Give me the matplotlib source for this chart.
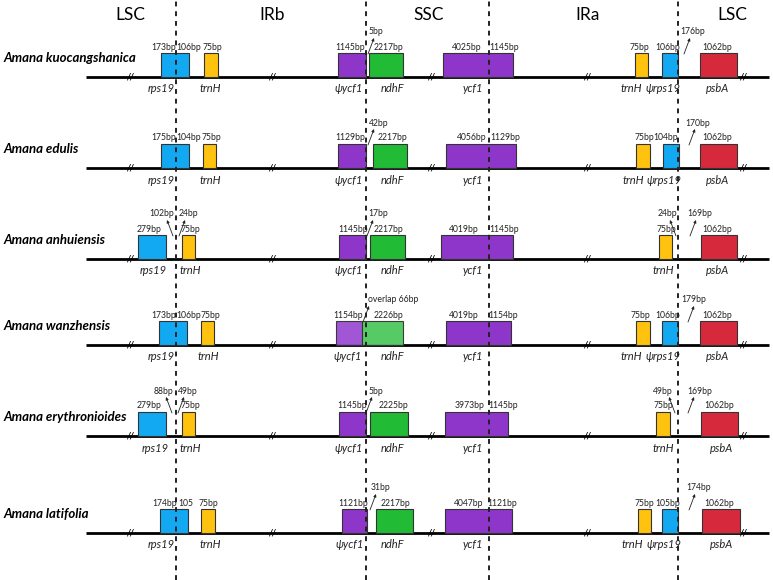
import matplotlib.pyplot as plt

# =========================================================
# data: IR boundary schematic, x in drawing units (px)
# =========================================================
species = ["Amana kuocangshanica", "Amana edulis", "Amana anhuiensis",
           "Amana wanzhensis", "Amana erythronioides", "Amana latifolia"]
row_y = [77, 168, 259, 345, 436, 533]

regions = ["LSC", "IRb", "SSC", "IRa", "LSC"]
region_x = [130, 272, 429, 588, 732]
junction_x = [176, 366, 489, 678]
break_x = [130, 272, 431, 587, 743]

colors = {"rps19": "#12A8F2", "trnH": "#FFC20E", "ycf": "#8E36C9",
          "ndhF": "#22BB36", "psbA": "#D62A3C",
          "ycf_l": "#9B4DD3", "ndhF_l": "#4DC95D"}

# gene boxes per row: (start, end, kind)
boxes = [
    [(161, 189, "rps19"), (204, 218, "trnH"), (338, 366, "ycf"), (369, 403, "ndhF"),
     (443, 513, "ycf"), (635, 648, "trnH"), (662, 678, "rps19"), (700, 737, "psbA")],
    [(161, 189, "rps19"), (203, 216, "trnH"), (338, 366, "ycf"), (373, 407, "ndhF"),
     (446, 516, "ycf"), (636, 650, "trnH"), (663, 679, "rps19"), (700, 737, "psbA")],
    [(138, 166, "rps19"), (182, 195, "trnH"), (339, 366, "ycf"), (370, 405, "ndhF"),
     (441, 513, "ycf"), (659, 672, "trnH"), (701, 737, "psbA")],
    [(159, 187, "rps19"), (201, 214, "trnH"), (336, 362, "ycf_l"), (362, 403, "ndhF_l"),
     (446, 511, "ycf"), (636, 650, "trnH"), (662, 678, "rps19"), (700, 737, "psbA")],
    [(138, 166, "rps19"), (182, 195, "trnH"), (339, 366, "ycf"), (370, 408, "ndhF"),
     (445, 508, "ycf"), (656, 670, "trnH"), (701, 738, "psbA")],
    [(160, 188, "rps19"), (201, 215, "trnH"), (342, 367, "ycf"), (376, 413, "ndhF"),
     (445, 512, "ycf"), (638, 651, "trnH"), (662, 678, "rps19"), (702, 740, "psbA")],
]

# size labels above boxes: (x, text)
bp_labels = [
    [(164, "173bp"), (189, "106bp"), (212, "75bp"), (350, "1145bp"), (388, "2217bp"),
     (467, "4025bp"), (504, "1145bp"), (639, "75bp"), (668, "106bp"), (717, "1062bp")],
    [(164, "175bp"), (189, "104bp"), (211, "75bp"), (350, "1129bp"), (392, "2217bp"),
     (472, "4056bp"), (505, "1129bp"), (644, "75bp"), (666, "104bp"), (717, "1062bp")],
    [(149, "279bp"), (190, "75bp"), (353, "1145bp"), (388, "2217bp"),
     (464, "4019bp"), (504, "1145bp"), (666, "75bp"), (717, "1062bp")],
    [(164, "173bp"), (189, "106bp"), (210, "75bp"), (348, "1154bp"), (388, "2226bp"),
     (464, "4019bp"), (503, "1154bp"), (640, "75bp"), (668, "106bp"), (717, "1062bp")],
    [(149, "279bp"), (190, "75bp"), (352, "1145bp"), (393, "2225bp"),
     (470, "3973bp"), (503, "1145bp"), (663, "75bp"), (719, "1062bp")],
    [(165, "174bp"), (186, "105"), (208, "75bp"), (353, "1121bp"), (395, "2217bp"),
     (469, "4047bp"), (502, "1121bp"), (644, "75bp"), (668, "105bp"), (719, "1062bp")],
]

# arrow notes: (text, text_x, tail_x, head_x)
arrow_notes = [
    [("5bp", 376, 368, 374), ("176bp", 693, 684, 690)],
    [("42bp", 379, 368, 374), ("170bp", 698, 689, 695)],
    [("102bp", 162, 173, 167), ("24bp", 188, 179, 185), ("17bp", 378, 367, 373),
     ("24bp", 667, 676, 670), ("169bp", 700, 690, 696)],
    [("overlap 66bp", 393, 363, 369), ("179bp", 694, 688, 694)],
    [("88bp", 163, 172, 166), ("49bp", 188, 178, 184), ("5bp", 376, 366, 372),
     ("49bp", 663, 675, 669), ("169bp", 700, 688, 694)],
    [("31bp", 381, 370, 376), ("174bp", 699, 689, 695)],
]

# gene names under the line: (x, text)
gene_names = [
    [(161, "rps19"), (210, "trnH"), (349, r"ψycf1"), (392, "ndhF"), (473, "ycf1"),
     (631, "trnH"), (663, "ψrps19"), (718, "psbA")],
    [(161, "rps19"), (210, "trnH"), (349, r"ψycf1"), (392, "ndhF"), (473, "ycf1"),
     (633, "trnH"), (664, "ψrps19"), (718, "psbA")],
    [(153, "rps19"), (190, "trnH"), (349, r"ψycf1"), (392, "ndhF"), (473, "ycf1"),
     (663, "trnH"), (718, "psbA")],
    [(161, "rps19"), (208, "trnH"), (348, r"ψycf1"), (392, "ndhF"), (473, "ycf1"),
     (631, "trnH"), (663, "ψrps19"), (718, "psbA")],
    [(155, "rps19"), (190, "trnH"), (349, r"ψycf1"), (392, "ndhF"), (473, "ycf1"),
     (663, "trnH"), (722, "psbA")],
    [(161, "rps19"), (210, "trnH"), (350, r"ψycf1"), (392, "ndhF"), (473, "ycf1"),
     (632, "trnH"), (664, "ψrps19"), (722, "psbA")],
]

# =========================================================
# plotting
# =========================================================
plt.rcParams['font.family'] = ['Lato', 'DejaVu Sans']

fig = plt.figure(figsize=(7.73, 5.80), dpi=100)
ax = fig.add_axes([0, 0, 1, 1])
ax.set_xlim(0, 773)
ax.set_ylim(580, 0)
ax.axis("off")

box_h = 24
for x in junction_x:
    ax.axvline(x, color="#222222", lw=1.4, linestyle=(0, (2.5, 2.5)), zorder=5)

for name, x in zip(regions, region_x):
    ax.text(x, 15, name, ha="center", va="center", fontsize=12.5)

for i, y in enumerate(row_y):
    ax.plot([86, 769], [y, y], color="black", lw=2, zorder=2, solid_capstyle="butt")
    for bx in break_x:
        ax.text(bx, y, "//", ha="center", va="center", fontsize=6.5,
                fontweight="bold", fontstyle="italic", zorder=3)
    ax.text(4, y - 19, species[i], ha="left", va="center", fontsize=9.5,
            fontweight="bold", fontstyle="italic")
    for x0, x1, kind in boxes[i]:
        alpha = 0.95 if kind.endswith("_l") else 1
        ax.add_patch(plt.Rectangle((x0, y - box_h), x1 - x0, box_h,
                                   facecolor=colors[kind], edgecolor="#333333",
                                   lw=0.8, alpha=alpha, zorder=4))
    for x, txt in bp_labels[i]:
        ax.text(x, y - 30, txt, ha="center", va="center", fontsize=6.2,
                color="#222222")
    for txt, tx, x_tail, x_head in arrow_notes[i]:
        ax.annotate("", xy=(x_head, y - 39), xytext=(x_tail, y - 23),
                    arrowprops=dict(arrowstyle="-|>", lw=0.6, color="#222222",
                                    mutation_scale=4, shrinkA=0, shrinkB=0))
        ax.text(tx, y - 45, txt, ha="center", va="center", fontsize=6.2,
                color="#222222")
    for x, txt in gene_names[i]:
        ax.text(x, y + 12, txt, ha="center", va="center", fontsize=8,
                fontstyle="italic", color="#222222")

plt.savefig("out.png", dpi=100)
